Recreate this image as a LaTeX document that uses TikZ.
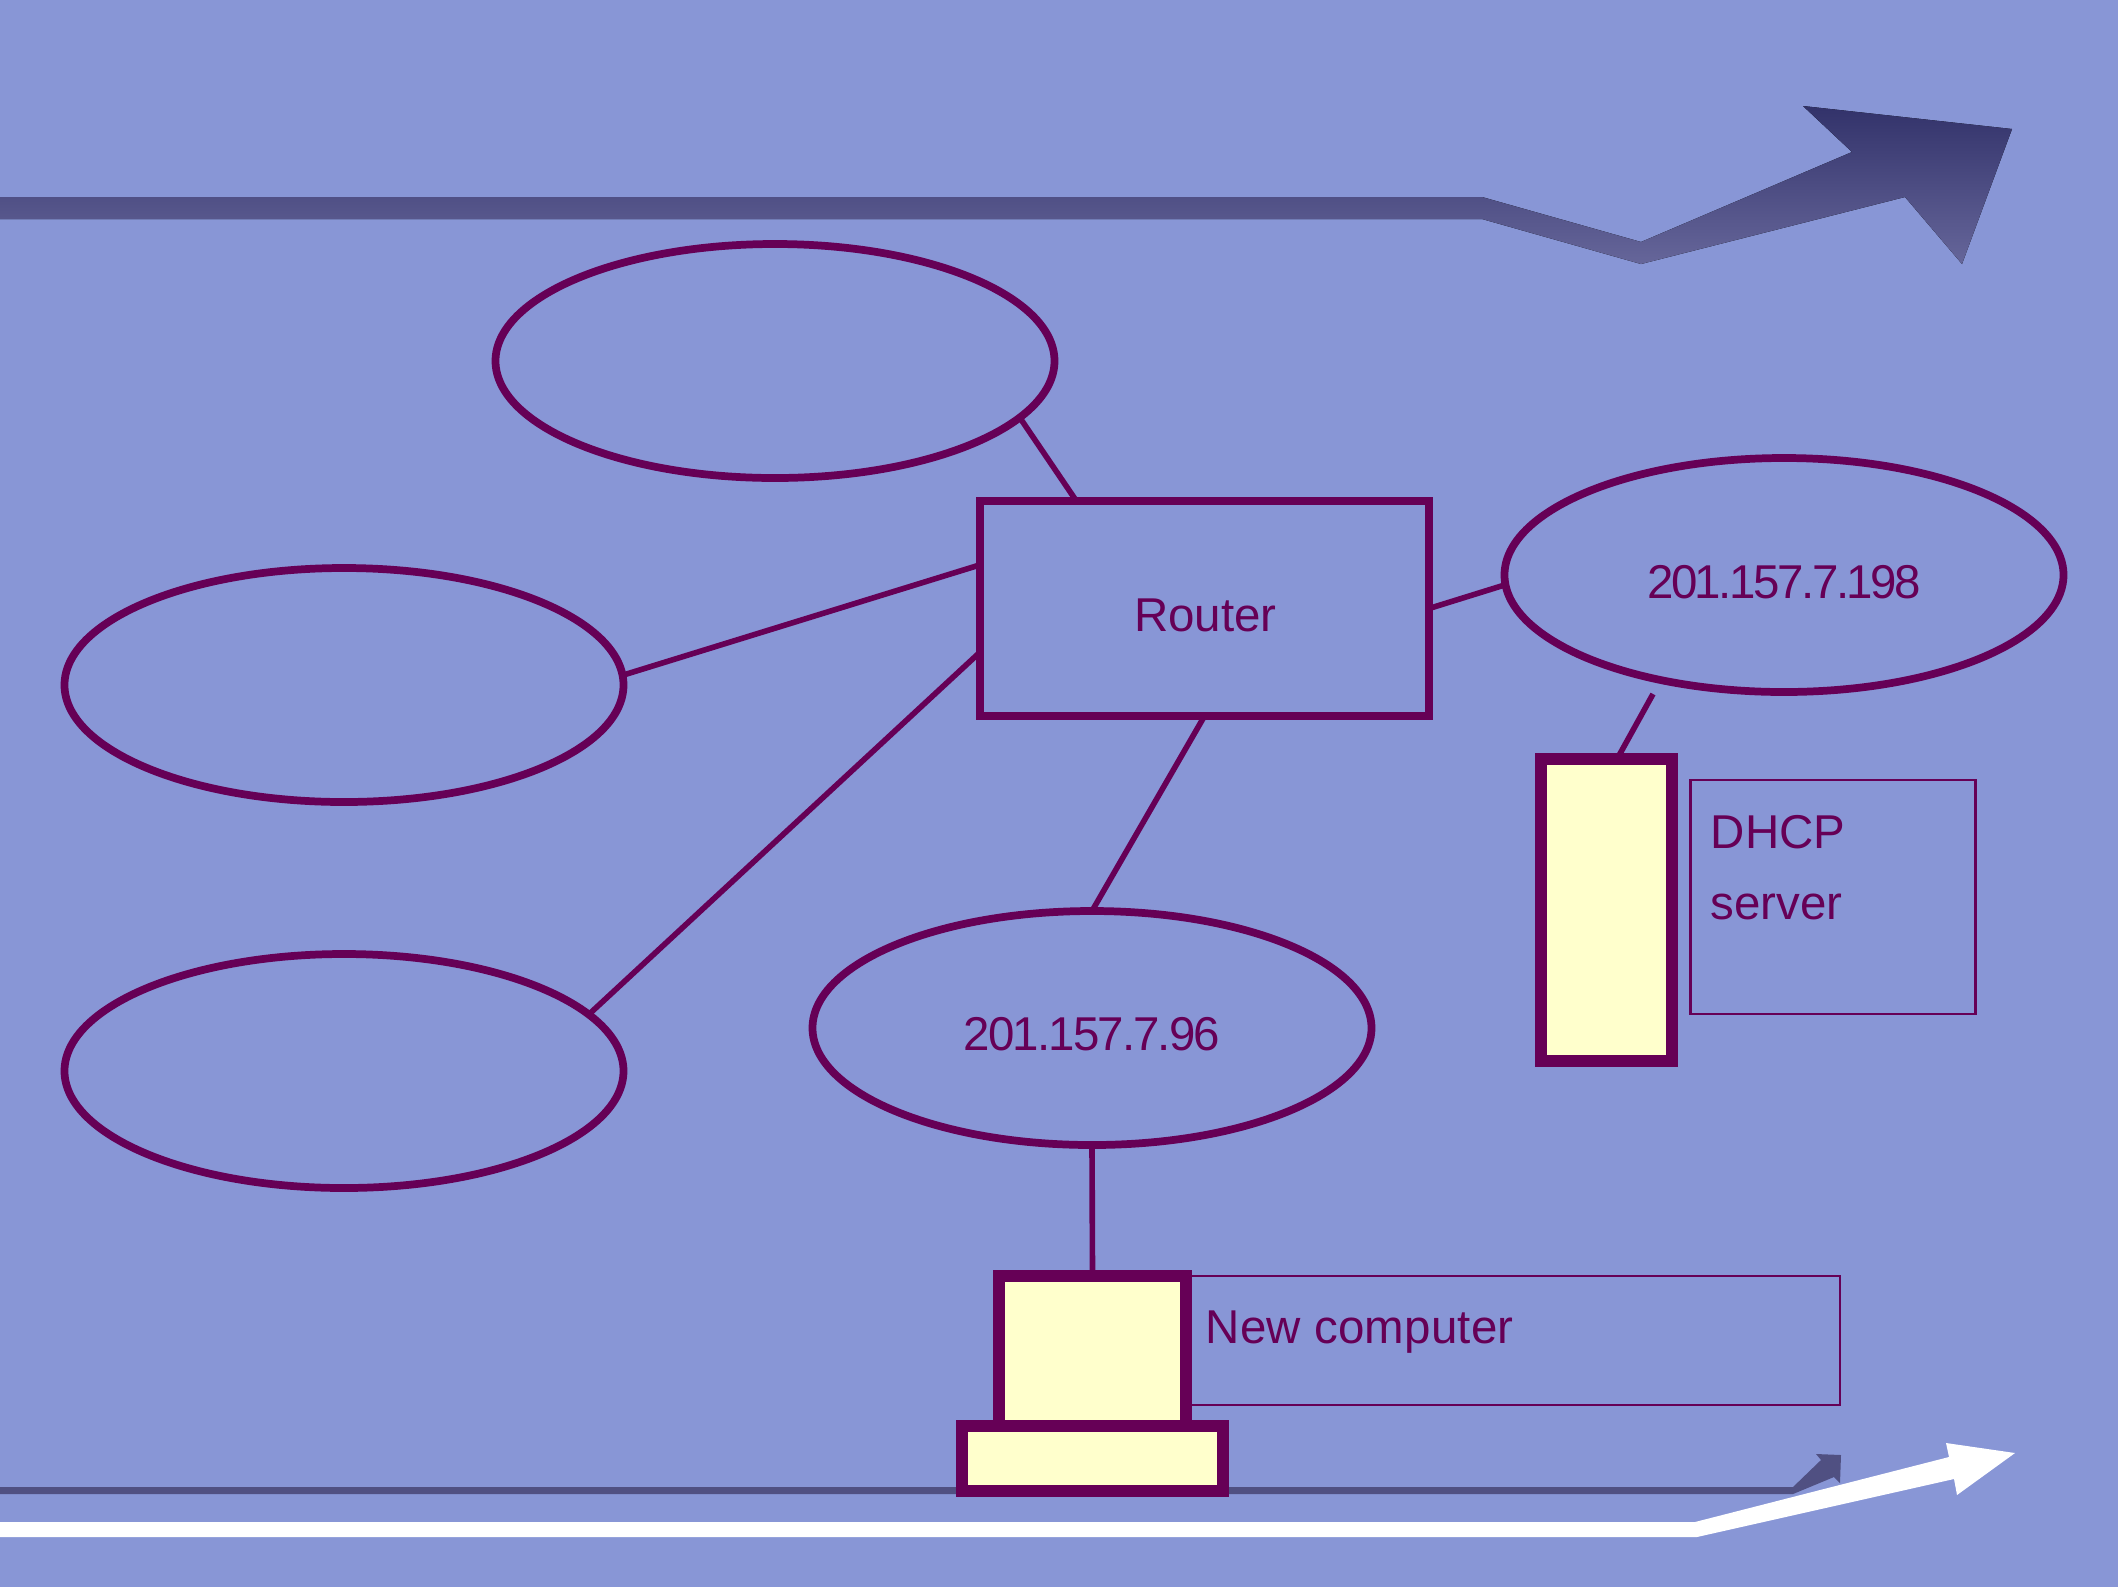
\documentclass[tikz,border=0pt]{standalone}
\usepackage{fontspec}
\setmainfont{Liberation Sans}
\definecolor{slideblue}{HTML}{8896D6}
\definecolor{plum}{HTML}{660056}
\definecolor{cream}{HTML}{FFFFCC}
\definecolor{darkband}{HTML}{505082}
\definecolor{bandtop}{HTML}{32326A}
\definecolor{bandbot}{HTML}{66669A}
\tikzset{
  net/.style={draw=plum, ellipse, line width=2.2pt, minimum width=559*0.01cm, minimum height=234*0.01cm, inner sep=0pt, outer sep=0pt},
  routerbox/.style={draw=plum, rectangle, line width=2.28pt, minimum width=449*0.01cm, minimum height=215*0.01cm, inner sep=0pt, outer sep=0pt},
  machine/.style={draw=plum, fill=cream, rectangle, line width=3.41pt, inner sep=0pt, outer sep=0pt},
  notebox/.style={draw=plum, rectangle, line width=0.71pt, inner sep=0pt, outer sep=0pt},
  lbl/.style={text=plum, inner sep=0pt, font=\fontsize{13.5}{16}\selectfont},
  link/.style={draw=plum, line width=1.6pt},
}
\usetikzlibrary{shapes.geometric}
\begin{document}
\begin{tikzpicture}[x=0.01cm, y=-0.01cm]
\useasboundingbox (0,0) rectangle (2118,1587);
\fill[slideblue] (0,0) rectangle (2118,1587);
\fill[top color=bandtop, bottom color=bandbot] (0,197) -- (1482,197) -- (1641,242) -- (1852,152) -- (1803,106) -- (2012,129) -- (1962,264) -- (1905,197) -- (1641,264) -- (1482,219) -- (0,219) -- cycle;
\fill[darkband] (0,1487) -- (1793,1487) -- (1821,1460) -- (1816,1454) -- (1841,1455) -- (1840,1483) -- (1834,1477) -- (1793,1494) -- (0,1494) -- cycle;
\fill[white] (0,1522) -- (1695,1522) -- (1949,1457) -- (1946,1443) -- (2015,1453) -- (1957,1495) -- (1954,1479) -- (1697,1537) -- (0,1537) -- cycle;
\node[net] (lan1) at (775,361) {};
\node[net] (lan2) at (344,685) {};
\node[net] (lan3) at (344,1071) {};
\node[net] (lan4) at (1092,1028) {};
\node[net] (lan5) at (1784,575) {};
\node[routerbox] (router) at (1204.5,608.5) {};
\node[notebox, minimum width=285*0.01cm, minimum height=234*0.01cm] (dhcpnote) at (1833,897) {};
\node[notebox, minimum width=654*0.01cm, minimum height=129*0.01cm] (newnote) at (1513,1340.5) {};
\node[machine, minimum width=131*0.01cm, minimum height=302*0.01cm] (dhcp) at (1606.5,910) {};
\node[machine, minimum width=187*0.01cm, minimum height=151*0.01cm] (monitor) at (1092.5,1351.5) {};
\node[machine, minimum width=261*0.01cm, minimum height=65*0.01cm] (base) at (1092.5,1458.5) {};
\node[lbl, anchor=base] (lrouter) at (1205.5,631) {Router};
\node[lbl, anchor=base] (l198) at (1784,598) {\addfontfeature{LetterSpace=-5.2}201.157.7.198};
\node[lbl, anchor=base] (l96) at (1092,1050) {\addfontfeature{LetterSpace=-4}201.157.7.96};
\node[lbl, anchor=base west] (ldhcp) at (1710,848) {DHCP};
\node[lbl, anchor=base west] (lserver) at (1710,919) {server};
\node[lbl, anchor=base west] (lnew) at (1205,1343) {\addfontfeature{LetterSpace=0.35}New computer};
\coordinate (gap) at (1653,694);
\draw[link] (router.140.4) -- (lan1.-13);
\draw[link] (router.169.4) -- (lan2.2.7);
\draw[link] (router.191.3) -- (lan3.13.3);
\draw[link] (router.south) -- (lan4.north);
\draw[link] (router.east) -- (lan5.182.5);
\draw[link] (gap) -- (dhcp.86);
\draw[link] (lan4.south) -- (monitor.north);
\end{tikzpicture}
\end{document}
